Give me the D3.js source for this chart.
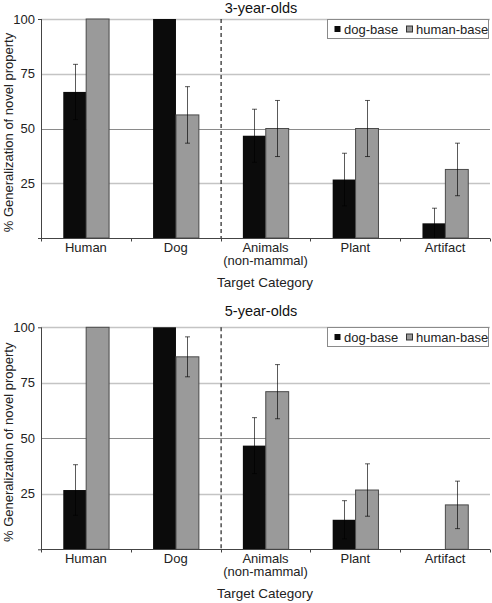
<!DOCTYPE html>
<html><head><meta charset="utf-8">
<script src="https://cdn.jsdelivr.net/npm/d3@7"></script>
<style>
html,body{margin:0;padding:0;background:#fff;}
svg{display:block;font-family:"Liberation Sans",Arial,sans-serif;}
</style></head>
<body>
<svg id="chart" width="492" height="603"></svg>
<script>
const categories = ["Human", "Dog", "Animals|(non-mammal)", "Plant", "Artifact"];
const series = ["dog-base", "human-base"];
const yTicks = [25, 50, 75, 100];
const panelTitles = ["3-year-olds", "5-year-olds"];

const dog3 = [66.7, 100, 46.7, 26.7, 6.7];
const dog3Err = [12.6, 0, 12.1, 12.0, 6.9];
const human3 = [100, 56.2, 50, 50, 31.3];
const human3Err = [0, 12.9, 12.8, 12.8, 12.0];

const dog5 = [26.7, 100, 46.7, 13.3, 0];
const dog5Err = [11.4, 0, 12.6, 8.6, 0];
const human5 = [100, 86.7, 71, 26.7, 20];
const human5Err = [0, 9.0, 12.2, 11.8, 10.7];

const panels = [
  {title: panelTitles[0], vals: [dog3, human3], errs: [dog3Err, human3Err], top: 19, bottom: 238, titleY: 13},
  {title: panelTitles[1], vals: [dog5, human5], errs: [dog5Err, human5Err], top: 327.3, bottom: 549.3, titleY: 316}
];

const colors = {"dog-base": "#0b0b0b", "human-base": "#9a9a9a"};
const svg = d3.select("#chart");
const left = 41, right = 490;

const x0 = d3.scaleBand().domain(categories).range([left, right]).paddingInner(0).paddingOuter(0);
const bw = x0.bandwidth();
const x1 = d3.scaleBand().domain(series).range([bw * 0.248, bw * 0.758]).padding(0);

panels.forEach(p => {
  const g = svg.append("g");
  const y = d3.scaleLinear().domain([0, 100]).range([p.bottom, p.top]);

  // title
  g.append("text").attr("x", 261).attr("y", p.titleY).attr("text-anchor", "middle")
    .attr("font-size", "14.5px").attr("fill", "#111").text(p.title);

  // gridlines
  g.selectAll("line.grid").data(yTicks).join("line")
    .attr("x1", left).attr("x2", right)
    .attr("y1", d => Math.round(y(d)) + 0.5).attr("y2", d => Math.round(y(d)) + 0.5)
    .attr("stroke", d => d === 50 ? "#8a8a8a" : "#c4c4c4").attr("stroke-width", d => d === 50 ? 1 : 1.4);

  // y tick labels
  g.selectAll("text.yt").data(yTicks).join("text")
    .attr("x", 35).attr("y", d => y(d)).attr("dy", "0.36em").attr("text-anchor", "end")
    .attr("font-size", "13px").attr("fill", "#222").text(d => d);

  // y axis label
  g.append("text")
    .attr("transform", `translate(13,${(p.top + p.bottom) / 2 + 4}) rotate(-90)`)
    .attr("text-anchor", "middle").attr("font-size", "13px").attr("fill", "#222")
    .text("% Generalization of novel property");

  // bars
  series.forEach((s, si) => {
    g.selectAll("rect.s" + si).data(categories).join("rect")
      .attr("x", c => x0(c) + x1(s))
      .attr("width", x1.bandwidth())
      .attr("y", (c, i) => y(p.vals[si][i]))
      .attr("height", (c, i) => y(0) - y(p.vals[si][i]))
      .attr("fill", colors[s])
      .attr("stroke", si === 1 ? "#4a4a4a" : "none")
      .attr("stroke-width", 1)
      .attr("display", (c, i) => p.vals[si][i] > 0 ? null : "none");
  });

  // error bars
  series.forEach((s, si) => {
    const eg = g.append("g").attr("stroke", "#000").attr("stroke-width", 0.65);
    categories.forEach((c, i) => {
      const v = p.vals[si][i], e = p.errs[si][i];
      if (!e) return;
      const cx = Math.round(x0(c) + x1(s) + x1.bandwidth() / 2) + 0.5;
      eg.append("line").attr("x1", cx).attr("x2", cx).attr("y1", y(v + e)).attr("y2", y(v - e));
      [v + e, v - e].forEach(t => {
        eg.append("line").attr("x1", cx - 2.5).attr("x2", cx + 2.5).attr("y1", y(t)).attr("y2", y(t));
      });
    });
  });

  // dashed separator
  g.append("line").attr("x1", x0(categories[2]) + 0.5).attr("x2", x0(categories[2]) + 0.5)
    .attr("y1", p.top).attr("y2", p.bottom)
    .attr("stroke", "#222").attr("stroke-width", 1.2).attr("stroke-dasharray", "4,3");

  // y axis line
  g.append("line").attr("x1", left + 0.5).attr("x2", left + 0.5).attr("y1", p.top).attr("y2", p.bottom)
    .attr("stroke", "#444");
  g.append("line").attr("x1", left - 3).attr("x2", left).attr("y1", p.bottom + 0.5).attr("y2", p.bottom + 0.5).attr("stroke", "#444");
  g.append("line").attr("x1", left - 3).attr("x2", left).attr("y1", p.top + 0.5).attr("y2", p.top + 0.5).attr("stroke", "#444");

  // x axis
  const xAxis = g.append("g").attr("transform", `translate(0,${Math.round(p.bottom) + 0.5})`);
  xAxis.append("line").attr("x1", left).attr("x2", right).attr("stroke", "#444");
  const bounds = categories.map(c => x0(c)).concat([right]);
  xAxis.selectAll("line.tk").data(bounds).join("line")
    .attr("x1", d => Math.round(d) + 0.5).attr("x2", d => Math.round(d) + 0.5)
    .attr("y1", 0).attr("y2", 3).attr("stroke", "#444");
  categories.forEach(c => {
    const t = xAxis.append("text").attr("x", x0(c) + bw / 2).attr("y", 13)
      .attr("text-anchor", "middle").attr("font-size", "13px").attr("fill", "#222");
    c.split("|").forEach((ln, k) => {
      t.append("tspan").attr("x", x0(c) + bw / 2).attr("dy", k === 0 ? 0 : 13.5).text(ln);
    });
  });
  xAxis.append("text").attr("x", 265).attr("y", 48).attr("text-anchor", "middle")
    .attr("font-size", "13.5px").attr("fill", "#222").text("Target Category");

  // legend
  const lg = g.append("g").attr("transform", `translate(327.5,${Math.round(p.top) + 0.5})`);
  lg.append("rect").attr("width", 161).attr("height", 19).attr("fill", "#fff").attr("stroke", "#8a8a8a");
  const lx = [7, 79];
  series.forEach((s, si) => {
    lg.append("rect").attr("x", lx[si]).attr("y", 6.5).attr("width", 6).attr("height", 6)
      .attr("fill", colors[s]).attr("stroke", si === 1 ? "#333" : "none");
    lg.append("text").attr("x", lx[si] + 9.5).attr("y", 14).attr("font-size", "13px").attr("fill", "#222").text(s);
  });
});
</script>
</body></html>
